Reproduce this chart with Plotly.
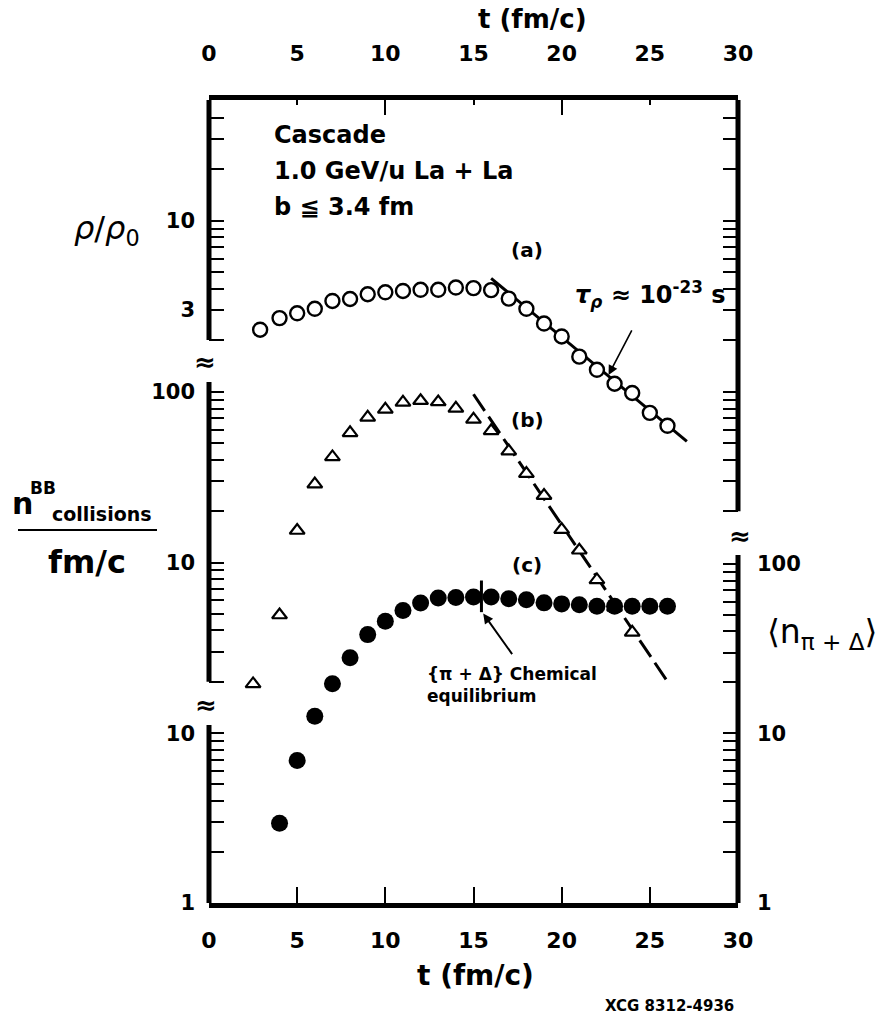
import math
import plotly.graph_objects as go

# ---------------- data ----------------
t_rho = [2.9, 4, 5, 6, 7, 8, 9, 10, 11, 12, 13, 14, 15, 16, 17, 18, 19, 20, 21, 22, 23, 24, 25, 26]
rho_vals = [2.30, 2.69, 2.87, 3.05, 3.39, 3.48, 3.71, 3.81, 3.88, 3.94, 3.94, 4.06, 4.03,
            3.92, 3.50, 3.05, 2.50, 2.10, 1.60, 1.34, 1.11, 0.98, 0.75, 0.63]

t_coll = [2.5, 4, 5, 6, 7, 8, 9, 10, 11, 12, 13, 14, 15, 16, 17, 18, 19, 20, 21, 22, 23, 24]
coll_vals = [1.94, 4.92, 15.4, 28.8, 41.6, 57.6, 71.0, 79.1, 86.9, 88.9, 87.4, 80.2, 69.1,
             59.2, 45.0, 33.2, 24.7, 15.6, 11.8, 7.9, 5.46, 3.89]

t_pion = [4, 5, 6, 7, 8, 9, 10, 11, 12, 13, 14, 15, 16, 17, 18, 19, 20, 21, 22, 23, 24, 25, 26]
pion_vals = [2.94, 6.90, 12.6, 19.6, 28.0, 38.3, 45.9, 53.1, 58.9, 63.0, 63.5, 64.0, 64.0,
             62.5, 61.6, 59.0, 58.2, 57.6, 56.3, 56.3, 56.3, 56.3, 56.3]

fit_a_t = [16.0, 27.1]
fit_a_val = [4.6, 0.51]
fit_b_t = [15.0, 26.05]
fit_b_val = [97.0, 1.97]
equil_t = [15.45, 15.45]
equil_val = [80.0, 52.0]

# tick lists
x_ticks = [0, 5, 10, 15, 20, 25, 30]
x_long_top = [10, 20]
rho_ticks = [2, 3, 4, 5, 6, 7, 8, 9, 10, 20, 30, 40]
rho_labels = {3: "3", 10: "10"}
coll_ticks = [2, 3, 4, 5, 6, 7, 8, 9, 10, 20, 30, 40, 50, 60, 70, 80, 90, 100]
coll_labels = {10: "10", 100: "100"}
coll_right_ticks = [20, 30, 40, 50, 60, 70, 80, 90, 100]
pion_left_ticks = [1, 2, 3, 4, 5, 6, 7, 8, 9, 10]
pion_left_labels = {1: "1", 10: "10"}
pion_ticks = [1, 2, 3, 4, 5, 6, 7, 8, 9, 10, 20, 30, 40, 50, 60, 70, 80, 90, 100]
pion_labels = {1: "1", 10: "10", 100: "100"}

# ---------------- geometry ----------------
W_FIG, H_FIG = 886, 1017
L, T, R, B = 209, 100, 148, 114
PW, PH = W_FIG - L - R, H_FIG - T - B

RHO_RANGE = [-2.9947, 1.7067]
COLL_RANGE = [-0.9971, 3.7126]
PION_RANGE = [-0.003, 4.743]


def px(x):
    return (x - L) / PW


def py(y):
    return (T + PH - y) / PH


FONT = "DejaVu Sans"
BLACK = "black"

fig = go.Figure()

line_a = go.Scatter(x=fit_a_t, y=fit_a_val, yaxis="y", mode="lines",
                    line=dict(color=BLACK, width=3), hoverinfo="skip")
line_b = go.Scatter(x=fit_b_t, y=fit_b_val, yaxis="y2", mode="lines",
                    line=dict(color=BLACK, width=3, dash="20px,7px"), hoverinfo="skip")
equil = go.Scatter(x=equil_t, y=equil_val, yaxis="y3", mode="lines",
                   line=dict(color=BLACK, width=3), hoverinfo="skip")
dots = go.Scatter(x=t_pion, y=pion_vals, yaxis="y3", mode="markers", cliponaxis=False,
                  marker=dict(symbol="circle", size=17, color=BLACK, line=dict(width=0)))
circles = go.Scatter(x=t_rho, y=rho_vals, yaxis="y", mode="markers", cliponaxis=False,
                     marker=dict(symbol="circle", size=14, color="white",
                                 line=dict(color=BLACK, width=2.4)))
tris = go.Scatter(x=t_coll, y=coll_vals, yaxis="y2", mode="markers", cliponaxis=False,
                  marker=dict(symbol="triangle-up", size=13, color="white",
                              line=dict(color=BLACK, width=2.2)))
for tr in [line_a, line_b, equil, dots, circles, tris]:
    fig.add_trace(tr)

# empty traces so every auxiliary axis is drawn
for xa, ya in [("x2", "y"), ("x3", "y"), ("x", "y4"), ("x", "y5"), ("x", "y6")]:
    fig.add_trace(go.Scatter(x=[], y=[], xaxis=xa, yaxis=ya, hoverinfo="skip"))

tickfont = dict(family=FONT, size=21, color=BLACK, weight="bold")


def yax(rng, ticks, labels, side, overlay=True, standoff=13):
    d = dict(type="log", range=rng, side=side, anchor="x",
             tickmode="array", tickvals=ticks,
             ticktext=[labels.get(v, "") for v in ticks],
             ticks="inside", ticklen=15, tickwidth=2, tickcolor=BLACK,
             showline=False, showgrid=False, zeroline=False, automargin=False,
             tickfont=tickfont, ticklabelstandoff=standoff, fixedrange=True)
    if overlay:
        d["overlaying"] = "y"
    return d


fig.update_layout(
    width=W_FIG, height=H_FIG, template="none",
    margin=dict(l=L, r=R, t=T, b=B, pad=0),
    paper_bgcolor="white", plot_bgcolor="white", showlegend=False,
    xaxis=dict(range=[0, 30], tickmode="array", tickvals=x_ticks,
               ticks="inside", ticklen=16, tickwidth=2, tickcolor=BLACK,
               showline=True, linewidth=5, linecolor=BLACK, mirror=False,
               showgrid=False, zeroline=False, automargin=False,
               tickfont=dict(family=FONT, size=22, color=BLACK, weight="bold"),
               ticklabelstandoff=14, fixedrange=True),
    xaxis2=dict(range=[0, 30], overlaying="x", side="top", anchor="y",
                tickmode="array", tickvals=x_ticks,
                ticks="inside", ticklen=5, tickwidth=2, tickcolor=BLACK,
                showline=True, linewidth=5, linecolor=BLACK,
                showgrid=False, zeroline=False, automargin=False,
                tickfont=dict(family=FONT, size=22, color=BLACK, weight="bold"),
                ticklabelstandoff=25, fixedrange=True),
    xaxis3=dict(range=[0, 30], overlaying="x", side="top", anchor="y",
                tickmode="array", tickvals=x_long_top, showticklabels=False,
                ticks="inside", ticklen=15, tickwidth=2, tickcolor=BLACK,
                showline=False, showgrid=False, zeroline=False, automargin=False,
                fixedrange=True),
    yaxis=yax(RHO_RANGE, rho_ticks, rho_labels, "left", overlay=False),
    yaxis2=yax(COLL_RANGE, coll_ticks, coll_labels, "left"),
    yaxis3=yax(PION_RANGE, pion_ticks, pion_labels, "right", standoff=18),
    yaxis4=yax(PION_RANGE, pion_left_ticks, pion_left_labels, "left"),
    yaxis5=yax(RHO_RANGE, rho_ticks, {}, "right"),
    yaxis6=yax(COLL_RANGE, coll_right_ticks, {}, "right"),
)

# vertical axis segments (broken axes); shape coordinates on log axes are data values
lw = dict(color=BLACK, width=5)
segments = [
    (0, "y", 2, 10 ** RHO_RANGE[1]),
    (0, "y2", 2, 114.5),
    (0, "y4", 10 ** PION_RANGE[0], 11.2),
    (1, "y2", 20, 10 ** COLL_RANGE[1]),
    (1, "y3", 10 ** PION_RANGE[0], 113),
]
for xp, yr, y0, y1 in segments:
    fig.add_shape(type="line", xref="paper", yref=yr, x0=xp, x1=xp, y0=y0, y1=y1,
                  line=lw, layer="above")

# fraction bar of the left label
fig.add_shape(type="line", xref="paper", yref="paper", x0=px(18), x1=px(157),
              y0=py(530), y1=py(530), line=dict(color=BLACK, width=2))

ann = []


def text(x, y, s, size, xanchor="center", yanchor="middle", bold=True, align="left", family=FONT):
    ann.append(dict(x=px(x), y=py(y), xref="paper", yref="paper", text=s, showarrow=False,
                    xanchor=xanchor, yanchor=yanchor, align=align,
                    font=dict(family=family, size=size, color=BLACK,
                              weight="bold" if bold else "normal")))


text(272, 135, "Cascade", 24, xanchor="left")
text(272, 171, "1.0 GeV/u La + La", 24, xanchor="left")
text(272, 207, "b ≦ 3.4 fm", 24, xanchor="left")
text(527, 250, "(a)", 20)
text(527, 420, "(b)", 20)
text(527, 565, "(c)", 20)
text(573, 294, "<i>τ</i><sub><i>ρ</i></sub> ≈ 10<sup>-23</sup> s", 24, xanchor="left")
text(425, 685, "{π + Δ} Chemical<br>equilibrium", 17, xanchor="left")
text(532, 19, "t (fm/c)", 26)
text(475, 976, "t (fm/c)", 28)
text(603, 1006, "XCG 8312-4936", 15, xanchor="left")
text(107, 230, "<i>ρ</i>/<i>ρ</i><sub>0</sub>", 32, bold=False)
text(22, 503, "n", 30)
text(28, 488, "BB", 17, xanchor="left")
text(50, 514, "collisions", 19, xanchor="left")
text(87, 562, "fm/c", 32)
text(765, 633, "⟨n<sub>π + Δ</sub>⟩", 33, xanchor="left", bold=False)
text(205, 362, "≈", 26)
text(206, 705, "≈", 26)
text(740, 536, "≈", 26)

# arrows
ann.append(dict(x=22.66, y=math.log10(1.25), xref="x", yref="y", text="", showarrow=True,
                ax=24, ay=-46, axref="pixel", ayref="pixel", arrowhead=2, arrowsize=1.2,
                arrowwidth=1.6, arrowcolor=BLACK))
ann.append(dict(x=15.55, y=math.log10(51), xref="x", yref="y3", text="", showarrow=True,
                ax=30, ay=42, arrowhead=2, arrowsize=1.0, arrowwidth=2, arrowcolor=BLACK))

fig.update_layout(annotations=ann)

fig.write_html("out.html", config={"displayModeBar": False, "staticPlot": True})
